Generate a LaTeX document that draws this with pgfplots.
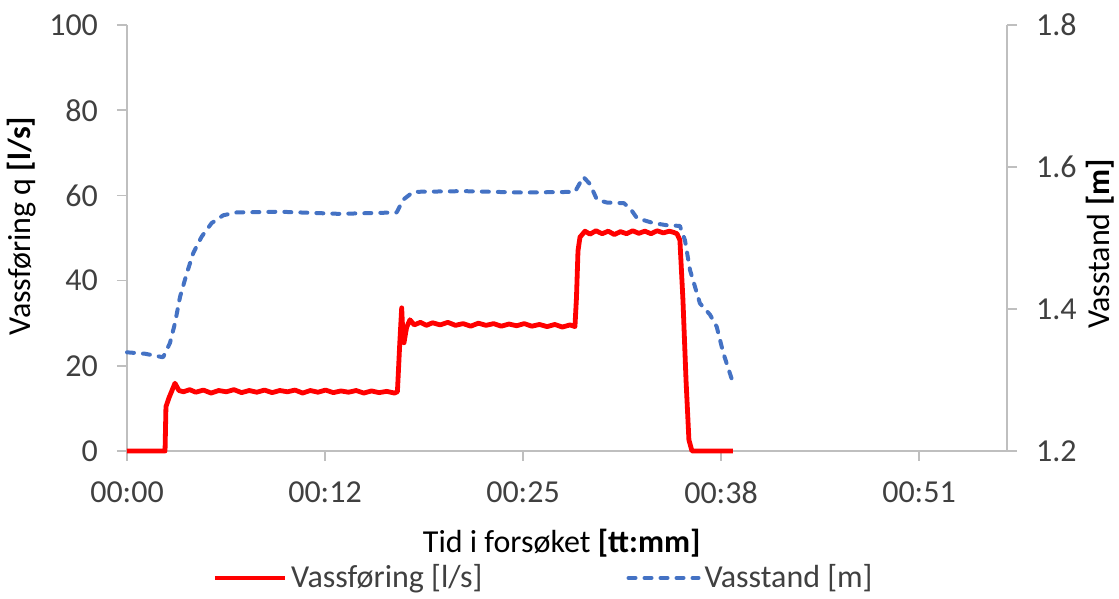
\documentclass[border=0pt]{standalone}
\usepackage{fontspec}
\setmainfont{Carlito}
\usepackage{pgfplots}
\pgfplotsset{compat=1.18}
\definecolor{qred}{HTML}{FF0000}
\definecolor{hblue}{HTML}{4472C4}
\definecolor{axgray}{HTML}{BFBFBF}
\definecolor{txt}{HTML}{404040}

\pgfplotsset{
  base/.style={
    scale only axis, width=440pt, height=213pt,
    at={(0,0)}, anchor=south west,
    xmin=0, xmax=57.6,
    axis line style={axgray, line width=0.8pt},
    tick style={axgray, line width=0.8pt},
    major tick length=5pt,
    tick align=outside,
    ticklabel style={txt, font=\fontsize{16}{19}\selectfont},
    label style={txt, font=\fontsize{16}{19}\selectfont},
    /pgf/number format/assume math mode=true,
    clip=false,
  },
}

\begin{document}
\fontsize{16}{19}\selectfont
\begin{tikzpicture}
\begin{axis}[base,
  axis x line*=bottom, axis y line*=left,
  ymin=0, ymax=100, ytick={0,20,...,100},
  xtick={0,12.96,25.92,38.88,51.84},
  xticklabels={00:00,00:12,00:25,00:38,00:51},
  xticklabel shift=5pt,
  yticklabel shift=4pt,
  xlabel={Tid i forsøket \textbf{[tt:mm]}},
  ylabel={Vassføring q \textbf{[l/s]}},
  every axis x label/.style={at={(rel axis cs:0.494,-0.216)}, anchor=center},
  every axis y label/.style={at={(rel axis cs:-0.1193,0.528)}, anchor=center, rotate=90},
]
\addplot[qred, line width=2.4pt, line join=round] coordinates {
(0,0) (2.49,0) (2.55,10.4) (2.75,12.5) (3.14,15.9) (3.4,14.2) (3.7,13.9)
(4.1,14.4) (4.5,13.8) (5.0,14.3) (5.5,13.6) (6.0,14.2) (6.5,13.9) (7.0,14.4) (7.5,13.7)
(8.0,14.2) (8.5,13.8) (9.0,14.3) (9.5,13.7) (10.0,14.2) (10.5,13.9) (11.0,14.3)
(11.5,13.6) (12.0,14.2) (12.5,13.8) (13.0,14.3) (13.5,13.7) (14.0,14.1) (14.5,13.8)
(15.0,14.2) (15.5,13.6) (16.0,14.1) (16.5,13.7) (17.0,14.0) (17.5,13.6)
(17.7,13.9) (17.85,25) (17.98,33.6) (18.05,28) (18.13,25.4) (18.3,29) (18.52,30.8)
(18.8,29.6) (19.2,30.2) (19.6,29.5) (20.0,30.1) (20.5,29.6) (21.0,30.2) (21.5,29.5)
(22.0,29.9) (22.5,29.3) (23.0,30.0) (23.5,29.5) (24.0,29.9) (24.5,29.3) (25.0,29.8)
(25.5,29.4) (26.0,29.9) (26.5,29.3) (27.0,29.7) (27.5,29.2) (28.0,29.7) (28.5,29.1)
(29.0,29.6) (29.32,29.2)
(29.42,36) (29.52,47) (29.65,50.2) (29.98,51.6) (30.3,50.9) (30.7,51.7) (31.1,51.0)
(31.5,51.6) (31.9,50.8) (32.3,51.5) (32.7,51.0) (33.1,51.7) (33.5,51.1) (33.9,51.6)
(34.3,51.0) (34.7,51.7) (35.1,51.2) (35.5,51.6) (35.8,51.3) (36.0,51.0) (36.19,49.5)
(36.39,35.4) (36.59,16.7) (36.78,2.6) (36.98,0) (39.66,0)
};
\end{axis}
\begin{axis}[base,
  axis x line=none, axis y line*=right,
  ymin=1.2, ymax=1.8, ytick={1.2,1.4,1.6,1.8},
  yticklabel style={/pgf/number format/.cd, fixed, fixed zerofill, precision=1},
  yticklabel shift=4pt,
  ylabel={Vasstand \textbf{[m]}},
  every axis y label/.style={at={(rel axis cs:1.1057,0.486)}, anchor=center, rotate=90},
  legend columns=2,
  legend style={draw=none, fill=none, at={(0.0966,-0.298)}, anchor=west,
    inner sep=0pt, font=\fontsize{16}{19}\selectfont, text=txt,
    /tikz/every even column/.append style={column sep=70pt}},
  legend image code/.code={\draw[#1] (0pt,0pt) -- (35pt,0pt);},
]
\addlegendimage{qred, line width=2.4pt}
\addlegendentry{Vassføring [l/s]}
\addplot[hblue, line width=2pt, dash pattern=on 3.5pt off 4.5pt, line cap=round, line join=round] coordinates {
(0,1.339) (1.18,1.337) (2.36,1.332) (2.81,1.352) (3.14,1.380) (3.47,1.417)
(3.91,1.450) (4.34,1.479) (4.89,1.502) (5.54,1.521) (6.30,1.532) (7.18,1.536)
(10,1.537) (13.9,1.534) (17.65,1.536) (18.08,1.554) (18.74,1.565) (22,1.566)
(26,1.564) (29.32,1.565) (29.87,1.586) (30.30,1.576) (30.76,1.554) (31.40,1.550)
(32.53,1.549) (32.99,1.540) (33.38,1.528) (34.45,1.521) (35.33,1.518) (36.19,1.517)
(36.52,1.497) (36.85,1.455) (37.50,1.408) (38.16,1.392) (38.60,1.375) (39.03,1.338)
(39.68,1.295)
};
\addlegendentry{Vasstand [m]}
\end{axis}
\pgfresetboundingbox
\path[use as bounding box] (-63.5pt,-74pt) rectangle (496pt,225.5pt);
\end{tikzpicture}
\end{document}
